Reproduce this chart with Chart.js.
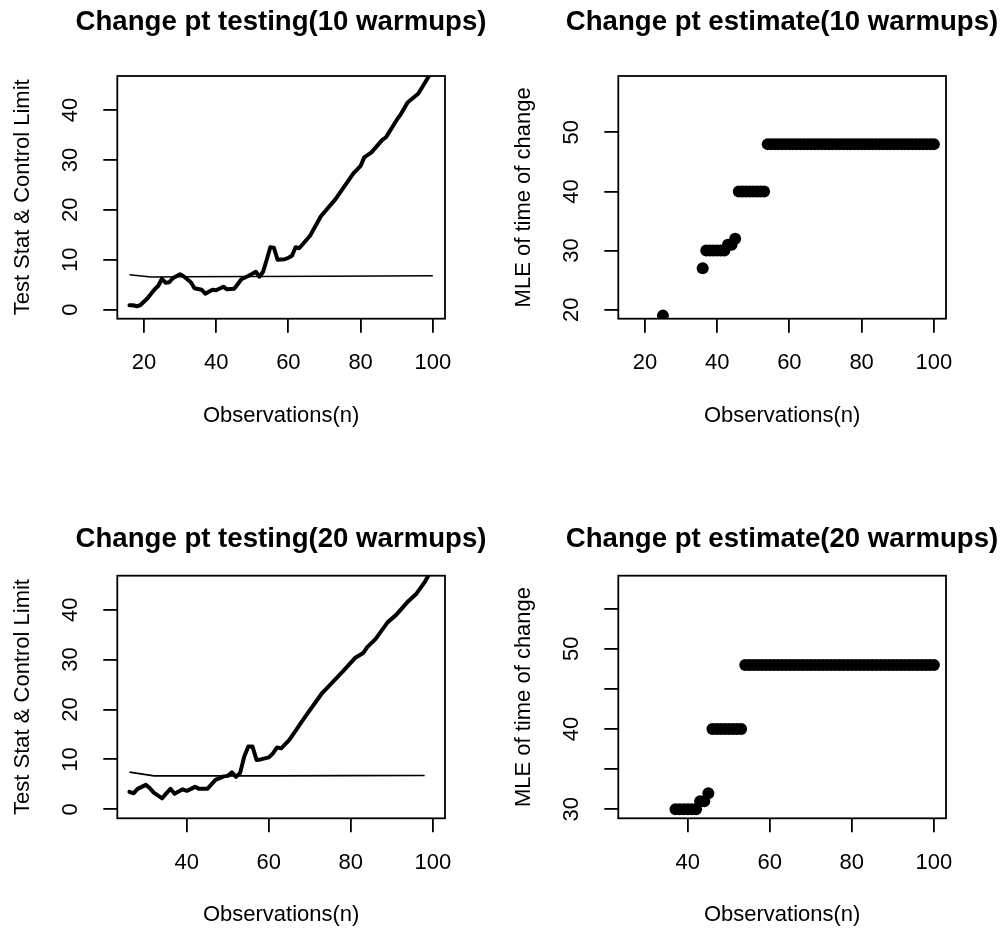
<!DOCTYPE html>
<html>
<head>
<meta charset="utf-8">
<title>Change pt testing / estimate</title>
<script src="https://cdn.jsdelivr.net/npm/chart.js@4.4.1/dist/chart.umd.min.js"></script>
<style>
  body { margin: 0; background: #fff; overflow: hidden; }
  #wrap { position: relative; width: 1008px; height: 934px; overflow: hidden; }
  canvas { position: absolute; }
</style>
</head>
<body>
<div id="wrap">
  <canvas id="p1" width="562" height="467" style="left:0;top:0"></canvas>
  <canvas id="p2" width="556" height="467" style="left:504px;top:0"></canvas>
  <canvas id="p3" width="562" height="467" style="left:0;top:467px"></canvas>
  <canvas id="p4" width="556" height="467" style="left:504px;top:467px"></canvas>
</div>
<script>
// ---- data ----

// 10 warmups: test statistic and control limit
const obs10 = [16,17,18,19,21,23,24,25,26,27,28,30,31,33,34,36,37,39,40,42,43,45,47,49,51,52,53,54,55,56,57,59,60,61,62,63,66,69,73,78,80,81,83,86,87,90,91,93,96,99,100];
const testStat10 = [0.9,0.9,0.7,0.9,2.3,4.1,4.8,6.2,5.4,5.5,6.3,7.1,6.7,5.5,4.3,4.0,3.2,4.0,3.9,4.6,4.1,4.2,6.1,6.8,7.6,6.6,7.6,10.0,12.5,12.4,10.0,10.1,10.4,10.8,12.5,12.3,14.8,18.7,22.1,27.3,28.8,30.5,31.5,34.0,34.5,38.0,39.0,41.5,43.3,46.9,47.8];
const limitObs10 = [16,18,20,22,30,50,70,100];
const limit10 = [7.0,6.85,6.7,6.55,6.6,6.65,6.7,6.8];

// 10 warmups: MLE of change time
const estObs10 = [25,36,37,38,39,40,41,42,43,44,45,46,47,48,49,50,51,52,53,54,55,56,57,58,59,60,61,62,63,64,65,66,67,68,69,70,71,72,73,74,75,76,77,78,79,80,81,82,83,84,85,86,87,88,89,90,91,92,93,94,95,96,97,98,99,100];
const estimate10 = [19,27,30,30,30,30,30,30,31,31,32,40,40,40,40,40,40,40,40,
  48,48,48,48,48,48,48,48,48,48,
  48,48,48,48,48,48,48,48,48,48,
  48,48,48,48,48,48,48,48,48,48,
  48,48,48,48,48,48,48,48,48,48,
  48,48,48,48,48,48,48];

// 20 warmups: test statistic and control limit
const obs20 = [26,27,28,30,31,32,34,35,36,37,39,40,42,43,45,47,49,50,51,52,53,54,55,56,57,58,60,61,62,63,65,69,73,78,81,83,84,86,89,91,94,96,98,99,100];
const testStat20 = [3.5,3.2,4.1,4.9,4.2,3.3,2.2,3.2,4.1,3.1,4.0,3.7,4.5,4.1,4.1,5.9,6.6,6.7,7.4,6.5,7.3,10.6,12.6,12.6,9.9,10.0,10.4,11.2,12.4,12.2,13.9,18.7,23.3,27.6,30.3,31.3,32.5,34.1,37.5,38.9,41.7,43.2,45.5,47.0,47.7];
const limitObs20 = [26,28,30,32,40,60,80,98];
const limit20 = [7.45,7.2,6.95,6.7,6.7,6.7,6.75,6.78];

// 20 warmups: MLE of change time
const estObs20 = [37,38,39,40,41,42,43,44,45,46,47,48,49,50,51,52,53,54,55,56,57,58,59,60,61,62,63,64,65,66,67,68,69,70,71,72,73,74,75,76,77,78,79,80,81,82,83,84,85,86,87,88,89,90,91,92,93,94,95,96,97,98,99,100];
const estimate20 = [30,30,30,30,30,30,31,31,32,40,40,40,40,40,40,40,40,
  48,48,48,48,48,48,48,48,48,48,
  48,48,48,48,48,48,48,48,48,48,
  48,48,48,48,48,48,48,48,48,48,
  48,48,48,48,48,48,48,48,48,48,
  48,48,48,48,48,48,48];

// axis ticks
const xTicks10 = [20,40,60,80,100];
const xTicks20 = [40,60,80,100];
const yTicksTest = [0,10,20,30,40];
const yTicksEst10 = [20,30,40,50];
const yTicksEst20 = [30,35,40,45,50,55];
const yLabelsEst20 = ['30','','40','','50',''];

// ---- drawing ----
const FONT = "'Liberation Sans', Arial, Helvetica, sans-serif";
const TITLE_SIZE = 27.6;
Chart.defaults.font.family = FONT;
Chart.defaults.color = '#000';

const pts = (xs, ys) => xs.map((x, i) => ({x: x, y: ys[i]}));

// R style box around the plot region
const boxPlugin = {
  id: 'rbox',
  afterDraw(chart) {
    const a = chart.chartArea, ctx = chart.ctx;
    ctx.save();
    ctx.strokeStyle = '#000';
    ctx.lineWidth = 1.8;
    ctx.strokeRect(a.left, a.top, a.right - a.left, a.bottom - a.top);
    ctx.restore();
  }
};

// canvas is as wide as needed so that the full-width title is centred on the plot box
function panel(id, ox, oy, W, area, cfg) {
  const H = 467, xAxisH = 110;
  const halfLine = TITLE_SIZE * 0.6;
  const grid = {drawOnChartArea: false, drawTicks: true, tickLength: 14, color: '#000', lineWidth: 1.8};

  new Chart(document.getElementById(id), {
    type: 'line',
    data: {datasets: cfg.datasets},
    plugins: [boxPlugin],
    options: {
      responsive: false,
      animation: false,
      devicePixelRatio: 1,
      layout: {padding: {left: 0, top: 0, right: 0, bottom: oy + H - area.bottom - xAxisH}},
      plugins: {
        legend: {display: false},
        tooltip: {enabled: false},
        title: {
          display: true, text: cfg.title, color: '#000',
          font: {size: TITLE_SIZE, weight: 'bold'},
          padding: {top: cfg.titleMid - oy - halfLine, bottom: area.top - cfg.titleMid - halfLine}
        }
      },
      scales: {
        x: {
          type: 'linear', min: cfg.xMin, max: cfg.xMax,
          afterBuildTicks: s => { s.ticks = cfg.xTicks.map(v => ({value: v})); },
          afterFit: s => { s.height = xAxisH; },
          grid: grid, border: {display: false},
          ticks: {font: {size: 22}, padding: 17.4, maxRotation: 0, autoSkip: false,
                  callback: v => String(v)},
          title: {display: true, text: 'Observations(n)', font: {size: 22}, padding: {top: 0, bottom: 0}}
        },
        y: {
          type: 'linear', min: cfg.yMin, max: cfg.yMax,
          afterBuildTicks: s => { s.ticks = cfg.yTicks.map(v => ({value: v})); },
          afterFit: s => { s.width = area.left - ox; },
          grid: grid, border: {display: false},
          ticks: {font: {size: 22}, padding: 19.8, minRotation: 90, maxRotation: 90,
                  crossAlign: 'center', autoSkip: false,
                  callback: (v, i) => cfg.yLabels ? cfg.yLabels[i] : String(v)},
          title: {display: true, text: cfg.yTitle, font: {size: 22},
                  padding: {top: area.left - 94 - ox - 13.2, bottom: 0}}
        },
        // empty right margin
        yR: {
          position: 'right', display: true,
          grid: {display: false}, border: {display: false}, ticks: {display: false},
          afterFit: s => { s.width = ox + W - area.right; }
        }
      }
    }
  });
}

function lineSets(xs, ys, lxs, lys) {
  return [
    {data: pts(xs, ys), borderColor: '#000', borderWidth: 4, pointRadius: 0, tension: 0,
     borderJoinStyle: 'round', borderCapStyle: 'round', clip: 0},
    {data: pts(lxs, lys), borderColor: '#000', borderWidth: 1.6, pointRadius: 0, tension: 0, clip: 0}
  ];
}
function dotSets(xs, ys) {
  return [{data: pts(xs, ys), showLine: false, pointRadius: 6, pointBorderWidth: 0,
           pointBackgroundColor: '#000', borderColor: '#000', clip: 0}];
}

panel('p1', 0, 0, 562, {left: 117.3, top: 76, right: 445, bottom: 318.7}, {
  title: 'Change pt testing(10 warmups)', titleMid: 22.6,
  yTitle: 'Test Stat & Control Limit',
  xMin: 12.64, xMax: 103.36, yMin: -1.8, yMax: 46.8,
  xTicks: xTicks10, yTicks: yTicksTest,
  datasets: lineSets(obs10, testStat10, limitObs10, limit10)
});
panel('p2', 504, 0, 556, {left: 618.3, top: 76, right: 946, bottom: 318.7}, {
  title: 'Change pt estimate(10 warmups)', titleMid: 22.6,
  yTitle: 'MLE of time of change',
  xMin: 12.64, xMax: 103.36, yMin: 18.48, yMax: 59.52,
  xTicks: xTicks10, yTicks: yTicksEst10,
  datasets: dotSets(estObs10, estimate10)
});
panel('p3', 0, 467, 562, {left: 117.3, top: 575.7, right: 445, bottom: 818.3}, {
  title: 'Change pt testing(20 warmups)', titleMid: 539.5,
  yTitle: 'Test Stat & Control Limit',
  xMin: 23.04, xMax: 102.96, yMin: -1.8, yMax: 46.8,
  xTicks: xTicks20, yTicks: yTicksTest,
  datasets: lineSets(obs20, testStat20, limitObs20, limit20)
});
panel('p4', 504, 467, 556, {left: 618.3, top: 575.7, right: 946, bottom: 818.3}, {
  title: 'Change pt estimate(20 warmups)', titleMid: 539.5,
  yTitle: 'MLE of time of change',
  xMin: 23.04, xMax: 102.96, yMin: 28.88, yMax: 59.12,
  xTicks: xTicks20, yTicks: yTicksEst20, yLabels: yLabelsEst20,
  datasets: dotSets(estObs20, estimate20)
});
</script>
</body>
</html>
